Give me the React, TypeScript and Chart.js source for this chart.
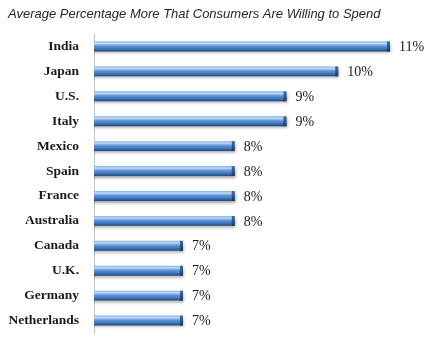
import React, { useEffect, useRef } from "react";
import { Chart, registerables } from "chart.js";

Chart.register(...registerables);

const title = "Average Percentage More That Consumers Are Willing to Spend";
const countries = [
  "India",
  "Japan",
  "U.S.",
  "Italy",
  "Mexico",
  "Spain",
  "France",
  "Australia",
  "Canada",
  "U.K.",
  "Germany",
  "Netherlands",
];
const percentMore = [11, 10, 9, 9, 8, 8, 8, 8, 7, 7, 7, 7];

const barStylePlugin = {
  id: "barStyle",
  beforeDatasetsDraw(chart: any) {
    const ctx = chart.ctx;
    const meta = chart.getDatasetMeta(0);
    meta.data.forEach((el: any) => {
      const top = el.y - el.height / 2;
      const bot = el.y + el.height / 2;
      const g = ctx.createLinearGradient(0, top, 0, bot);
      g.addColorStop(0, "#7eaee6");
      g.addColorStop(0.2, "#c2daf5");
      g.addColorStop(0.45, "#5f95d8");
      g.addColorStop(0.72, "#4078c0");
      g.addColorStop(1, "#23467a");
      el.options = Object.assign({}, el.options, { backgroundColor: g });
    });
    ctx.save();
    ctx.shadowColor = "rgba(0,0,0,0.35)";
    ctx.shadowBlur = 3;
    ctx.shadowOffsetX = 1;
    ctx.shadowOffsetY = 2;
  },
  afterDatasetsDraw(chart: any) {
    const ctx = chart.ctx;
    ctx.restore();
    const meta = chart.getDatasetMeta(0);
    const data = chart.data.datasets[0].data;
    ctx.save();
    meta.data.forEach((el: any) => {
      const top = el.y - el.height / 2;
      const g = ctx.createLinearGradient(0, top, 0, top + el.height);
      g.addColorStop(0, "#3a6aa8");
      g.addColorStop(0.5, "#2c5690");
      g.addColorStop(1, "#1b3560");
      ctx.fillStyle = g;
      ctx.fillRect(el.x - 3, top, 3, el.height);
    });
    ctx.fillStyle = "#1a1a1a";
    ctx.font = "14px 'Liberation Serif', serif";
    ctx.textAlign = "left";
    ctx.textBaseline = "middle";
    meta.data.forEach((el: any, i: number) => {
      ctx.fillText(`${data[i]}%`, el.x + 9, el.y + 1);
    });
    ctx.restore();
  },
  afterDraw(chart: any) {
    const ctx = chart.ctx;
    ctx.save();
    ctx.fillStyle = "#262626";
    ctx.font = "italic 13px 'Liberation Sans', Arial, sans-serif";
    ctx.textAlign = "left";
    ctx.textBaseline = "alphabetic";
    ctx.fillText(title, 8, 18);
    ctx.restore();
  },
};

export default function App() {
  const ref = useRef<HTMLCanvasElement>(null);
  useEffect(() => {
    if (!ref.current) return;
    const chart = new Chart(ref.current, {
      type: "bar",
      data: {
        labels: countries,
        datasets: [
          {
            data: percentMore,
            backgroundColor: "#4f81bd",
            barPercentage: 0.9,
            categoryPercentage: 0.44,
            borderWidth: 0,
          },
        ],
      },
      options: {
        indexAxis: "y",
        responsive: true,
        maintainAspectRatio: false,
        animation: false,
        layout: { padding: { top: 34, bottom: 7, right: 4, left: 0 } },
        plugins: {
          legend: { display: false },
          tooltip: { enabled: false },
          title: { display: false },
        },
        scales: {
          x: {
            display: false,
            min: 5.28,
            max: 11.773,
          },
          y: {
            grid: { display: false, drawTicks: true, tickLength: 15 },
            border: { display: true, color: "#c4c4c4", width: 1 },
            ticks: {
              color: "#1a1a1a",
              padding: 0,
              font: { family: "'Liberation Serif', serif", size: 13.5, weight: "bold", lineHeight: 1 },
            },
            afterFit(scale: any) {
              scale.width = 94;
            },
          },
        },
      },
      plugins: [barStylePlugin],
    });
    return () => chart.destroy();
  }, []);
  return (
    <div style={{ position: "absolute", left: 0, top: 0, width: 434, height: 340, background: "#fff" }}>
      <canvas ref={ref} style={{ display: "block" }} />
    </div>
  );
}
